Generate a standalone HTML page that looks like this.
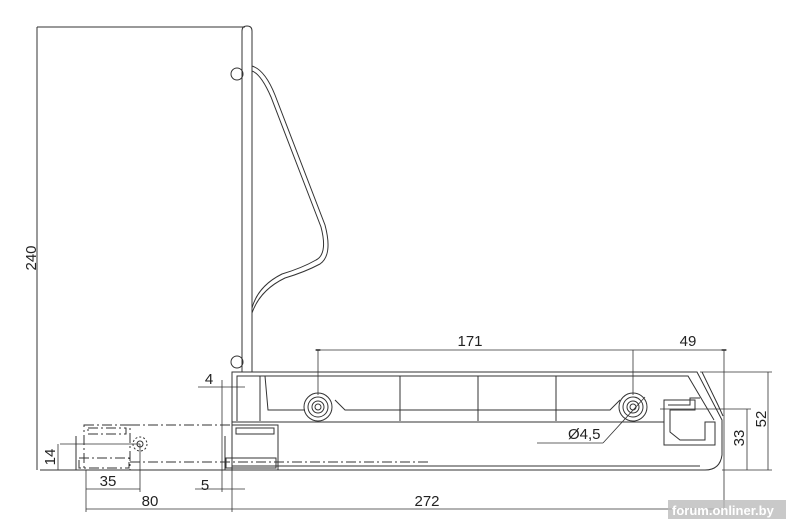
<!DOCTYPE html>
<html><head><meta charset="utf-8"><style>
html,body{margin:0;padding:0;background:#fff;width:800px;height:531px;overflow:hidden}
svg{display:block}
text{font-family:"Liberation Sans",sans-serif;font-size:15px;fill:#222}
</style></head><body>
<svg width="800" height="531" viewBox="0 0 800 531" xmlns="http://www.w3.org/2000/svg">
<defs><marker id="a" markerWidth="6" markerHeight="4" refX="3" refY="2" orient="auto"><rect x="0" y="1" width="6" height="2" fill="#333"/></marker></defs>
<g stroke="#333" stroke-width="1" fill="none">
<line x1="37" y1="27" x2="245" y2="27"/>
<line x1="37" y1="27" x2="37" y2="470"/>
<path d="M242,372 L242,31 Q242,26 247,26 Q252,26 252,31 L252,372"/>
<circle cx="237" cy="74" r="6"/>
<circle cx="237" cy="362" r="6"/>
<path d="M252,66 Q265,70 275,95 L325,225 Q333,255 320,264 Q305,272 285,278 Q260,290 252,313"/>
<path d="M252,71 Q261,74 271,97 L321,227 Q328,254 316,260 Q302,268 282,274 Q258,286 252,308"/>
<path d="M232,470 L232,372 L697,372 L722,420 L722,440 L722,455 Q720,470 705,470 Z"/>
<path d="M237,421 L237,376 L688,376 L714,420"/>
<path d="M702,372 L718,405 L723,416"/>
<line x1="232" y1="422" x2="664" y2="422"/>
<line x1="232" y1="466" x2="700" y2="466"/>
<line x1="260" y1="376" x2="260" y2="421"/>
<path d="M265,376 L268,410 L305,410"/>
<path d="M335,400 L345,410 L610,410 L620,400"/>
<line x1="400" y1="376" x2="400" y2="421"/>
<line x1="478" y1="376" x2="478" y2="421"/>
<line x1="556" y1="376" x2="556" y2="421"/>
<circle cx="318" cy="407" r="14"/><circle cx="318" cy="407" r="10"/><circle cx="318" cy="407" r="6"/><circle cx="318" cy="407" r="3"/>
<circle cx="633" cy="407" r="14"/><circle cx="633" cy="407" r="10"/><circle cx="633" cy="407" r="6"/><circle cx="633" cy="407" r="3"/>
<path d="M664,400 L664,445 L715,445 L715,422 L705,422 L705,440 L680,440 L670,432 L670,410 L695,410 L695,400 Z"/>
<path d="M668,405 L690,405 L690,398 L700,398"/>
<rect x="232" y="425" width="46" height="45"/>
<rect x="236" y="428" width="38" height="6"/>
<rect x="226" y="458" width="50" height="10"/>
<line x1="225" y1="436" x2="225" y2="470"/>
<rect x="84" y="425" width="46" height="45" stroke-dasharray="10,3,2,3"/>
<rect x="88" y="428" width="38" height="6" stroke-dasharray="10,3,2,3"/>
<rect x="79" y="458" width="50" height="10" stroke-dasharray="10,3,2,3"/>
<line x1="76" y1="436" x2="76" y2="470"/>
<circle cx="140" cy="444" r="7" stroke-dasharray="2,2"/><circle cx="140" cy="444" r="3"/>
<line x1="130" y1="425" x2="232" y2="425" stroke-dasharray="10,3,2,3"/>
<line x1="130" y1="462" x2="430" y2="462" stroke-dasharray="10,3,2,3"/>
<line x1="40" y1="470" x2="232" y2="470"/>
<g stroke-width="0.8">
<line x1="318" y1="350" x2="724" y2="350" marker-start="url(#a)" marker-end="url(#a)"/>
<line x1="318" y1="350" x2="318" y2="395"/>
<line x1="633" y1="350" x2="633" y2="395"/>
<line x1="724" y1="350" x2="724" y2="509"/>
<line x1="700" y1="372" x2="772" y2="372"/>
<line x1="768" y1="372" x2="768" y2="470"/>
<line x1="722" y1="470" x2="772" y2="470"/>
<line x1="660" y1="409" x2="751" y2="409"/>
<line x1="747" y1="409" x2="747" y2="470"/>
<line x1="60" y1="444" x2="140" y2="444"/>
<line x1="58" y1="444" x2="58" y2="470"/>
<line x1="86" y1="470" x2="86" y2="512"/>
<line x1="140" y1="444" x2="140" y2="492"/>
<line x1="86" y1="489" x2="140" y2="489"/>
<line x1="86" y1="509" x2="724" y2="509"/>
<line x1="222" y1="380" x2="222" y2="492"/>
<line x1="232" y1="470" x2="232" y2="512"/>
<line x1="195" y1="489" x2="245" y2="489"/>
<line x1="198" y1="387" x2="245" y2="387"/>
<line x1="537" y1="443" x2="603" y2="443"/>
<line x1="603" y1="443" x2="645" y2="397"/>
</g>
</g>
<text transform="translate(36,258) rotate(-90)" text-anchor="middle">240</text>
<text transform="translate(55,457) rotate(-90)" text-anchor="middle">14</text>
<text transform="translate(744,438) rotate(-90)" text-anchor="middle">33</text>
<text transform="translate(766,419) rotate(-90)" text-anchor="middle">52</text>
<text x="470" y="346" text-anchor="middle">171</text>
<text x="688" y="346" text-anchor="middle">49</text>
<text x="209" y="384" text-anchor="middle">4</text>
<text x="108" y="486" text-anchor="middle">35</text>
<text x="150" y="506" text-anchor="middle">80</text>
<text x="205" y="490" text-anchor="middle">5</text>
<text x="427" y="506" text-anchor="middle">272</text>
<text x="568" y="439">Ø4,5</text>
<rect x="668" y="500" width="118" height="19" fill="#bbb" opacity="0.8"/>
<text x="672" y="515" style="fill:#fff;font-weight:bold;font-size:13px">forum.onliner.by</text>
</svg>
</body></html>
